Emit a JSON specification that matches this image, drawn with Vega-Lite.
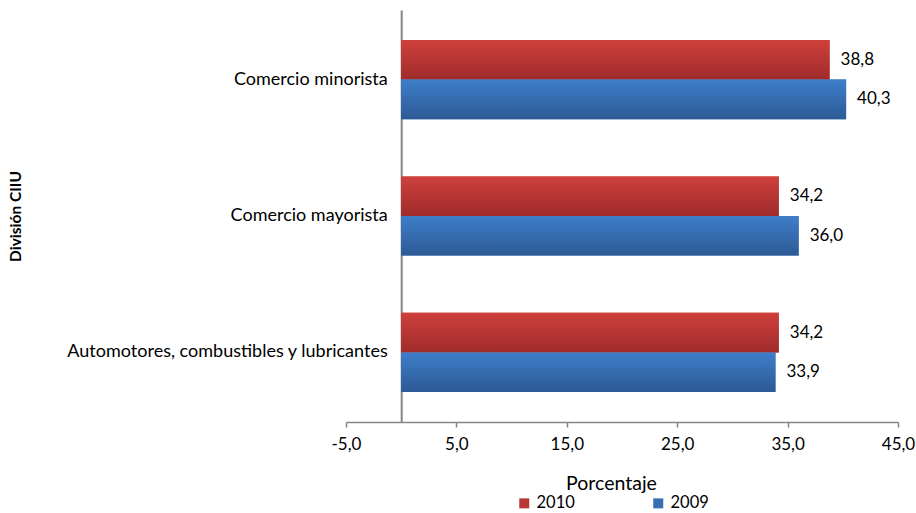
{
  "$schema": "https://vega.github.io/schema/vega-lite/v6.json",
  "width": 552,
  "height": 412,
  "autosize": {"type": "none"},
  "padding": {"left": 346, "top": 10, "right": 18, "bottom": 91},
  "background": "white",
  "config": {
    "locale": {"number": {"decimal": ",", "thousands": ".", "grouping": [3], "currency": ["", ""], "minus": "-"}},
    "font": "Lato",
    "view": {"stroke": null}
  },
  "data": {"values": [
    {"division": "Comercio minorista", "year": "2010", "value": 38.8},
    {"division": "Comercio minorista", "year": "2009", "value": 40.3},
    {"division": "Comercio mayorista", "year": "2010", "value": 34.2},
    {"division": "Comercio mayorista", "year": "2009", "value": 36.0},
    {"division": "Automotores, combustibles y lubricantes", "year": "2010", "value": 34.2},
    {"division": "Automotores, combustibles y lubricantes", "year": "2009", "value": 33.9}
  ]},
  "encoding": {
    "y": {
      "field": "division", "type": "nominal", "sort": null,
      "scale": {"paddingInner": 0.42, "paddingOuter": 0.22},
      "axis": {
        "title": "División CIIU", "titleFont": "Lato", "titleFontSize": 15.5, "titleFontWeight": "bold", "titleColor": "black",
        "titleX": -386, "titleBaseline": "middle",
        "offset": -55.2,
        "domainColor": "#868686", "domainWidth": 2,
        "ticks": false, "labelPadding": 14, "labelFontSize": 18, "labelColor": "black", "labelLimit": 400
      }
    },
    "yOffset": {"field": "year", "type": "nominal", "sort": ["2010", "2009"]},
    "x": {
      "field": "value", "type": "quantitative",
      "scale": {"domain": [-5, 45], "nice": false, "zero": false},
      "axis": {
        "values": [-5, 5, 15, 25, 35, 45], "format": ".1f", "labelFlush": false,
        "title": "Porcentaje", "titleFontSize": 19.5, "titleFontWeight": "normal", "titleColor": "black", "titlePadding": 22, "titleX": 265,
        "grid": false, "domainColor": "#868686", "domainWidth": 1.5,
        "tickColor": "#868686", "tickSize": 5, "tickWidth": 1.5,
        "labelFontSize": 17, "labelColor": "black", "labelPadding": 9
      }
    }
  },
  "layer": [
    {
      "mark": {"type": "bar"},
      "encoding": {
        "x2": {"datum": 0},
        "color": {
          "field": "year", "type": "nominal",
          "scale": {"domain": ["2010", "2009"], "range": ["#b93636", "#3670b3"]},
          "legend": {
            "title": null, "orient": "none", "direction": "horizontal",
            "legendX": 170, "legendY": 485,
            "symbolType": "square", "symbolSize": 100, "symbolStrokeWidth": 0,
            "labelFontSize": 16.5, "labelColor": "black", "columnPadding": 75, "labelOffset": 4
          }
        }
      }
    },
    {
      "transform": [{"filter": "datum.year === '2010'"}],
      "mark": {"type": "bar", "color": {"gradient": "linear", "x1": 0, "y1": 0, "x2": 0, "y2": 1, "stops": [{"offset": 0, "color": "#cf403c"}, {"offset": 1, "color": "#9f2b2b"}]}},
      "encoding": {"x2": {"datum": 0}}
    },
    {
      "transform": [{"filter": "datum.year === '2009'"}],
      "mark": {"type": "bar", "color": {"gradient": "linear", "x1": 0, "y1": 0, "x2": 0, "y2": 1, "stops": [{"offset": 0, "color": "#3f7ec9"}, {"offset": 1, "color": "#2c5a95"}]}},
      "encoding": {"x2": {"datum": 0}}
    },
    {
      "mark": {"type": "text", "align": "left", "dx": 11, "fontSize": 17, "color": "black", "baseline": "middle"},
      "encoding": {
        "text": {"field": "value", "type": "quantitative", "format": ".1f"}
      }
    }
  ]
}
